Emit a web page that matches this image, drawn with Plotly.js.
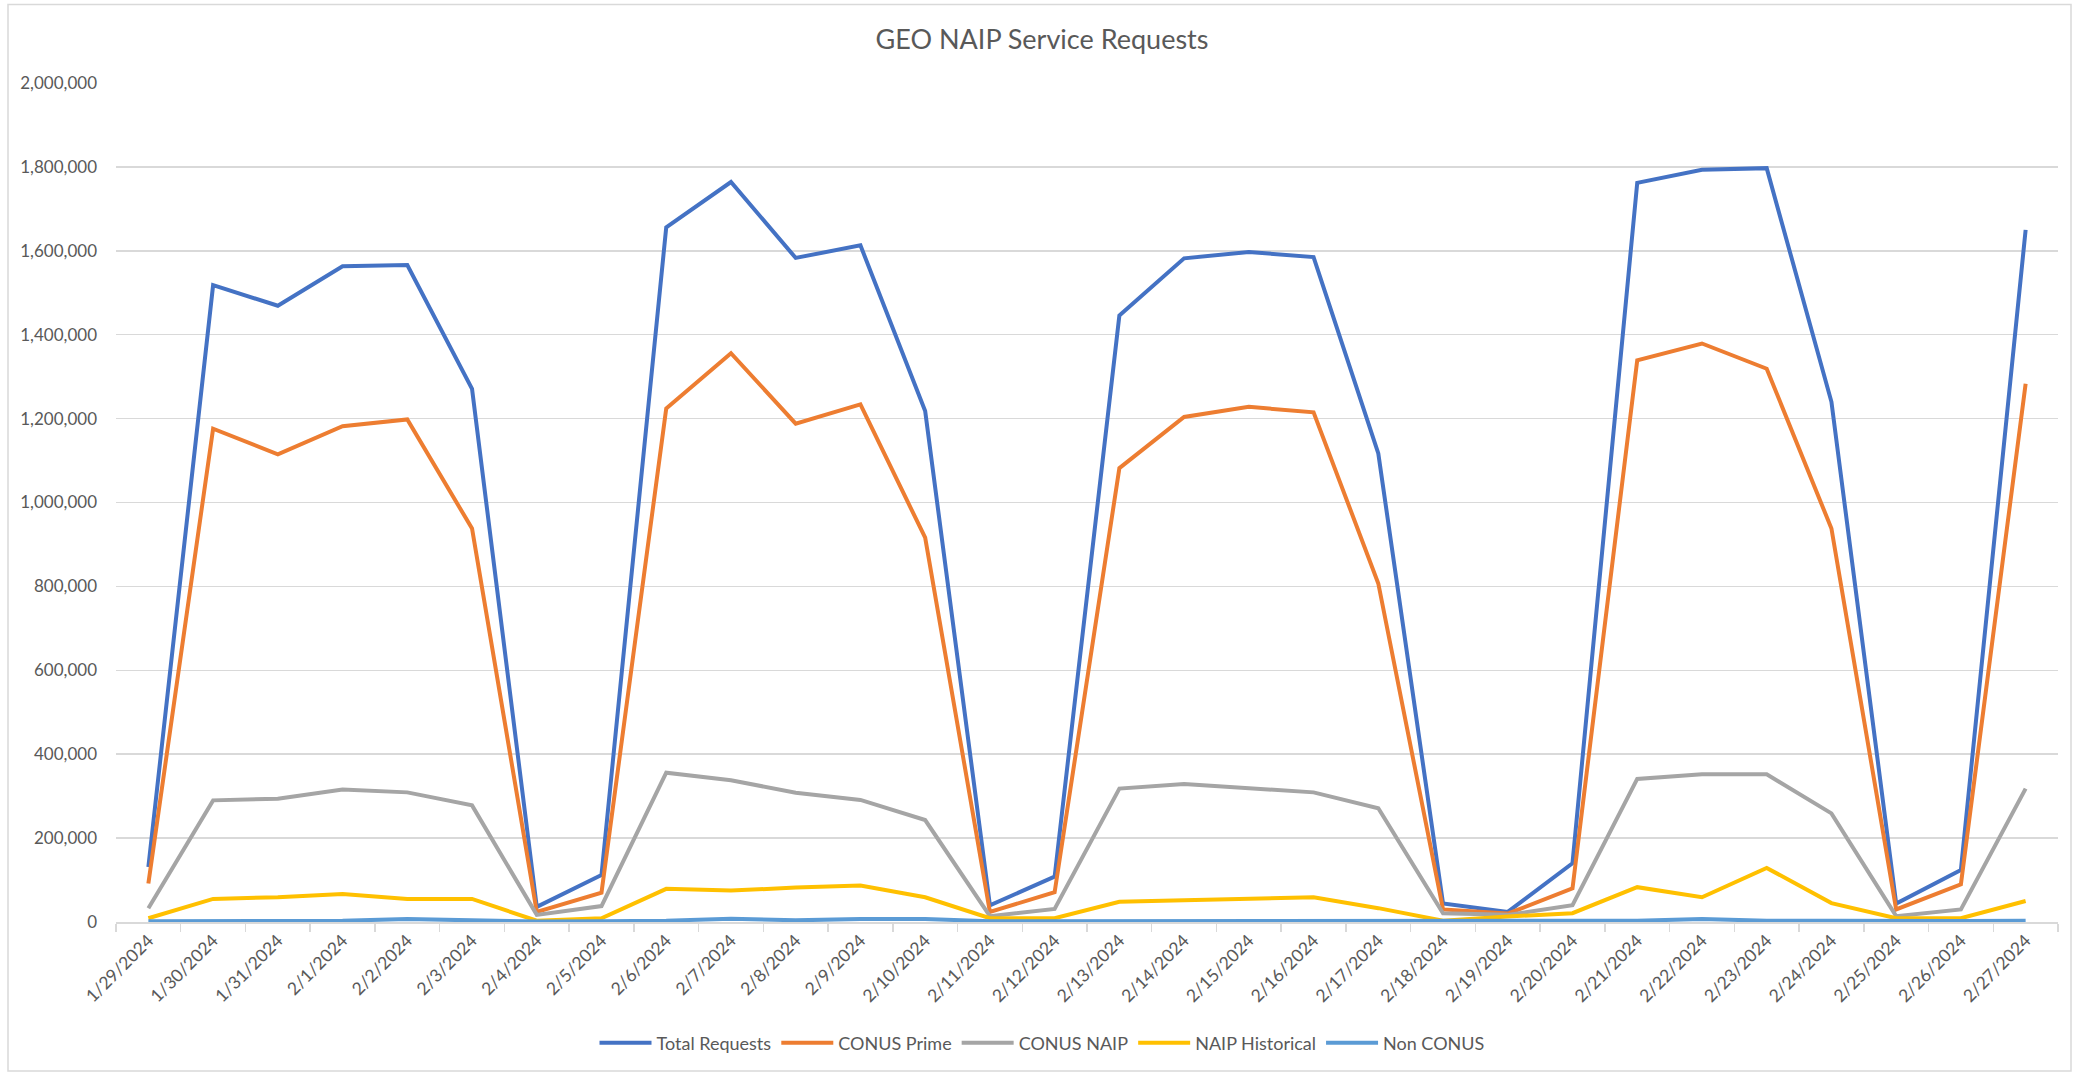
<!DOCTYPE html>
<html>
<head>
<meta charset="utf-8">
<script src="https://cdn.plot.ly/plotly-3.0.1.min.js"></script>
<style>
  html, body { margin: 0; padding: 0; background: #ffffff; }
  #chart { width: 2084px; height: 1072px; }
</style>
</head>
<body>
<div id="chart"></div>
<script>
const dates = ['1/29/2024','1/30/2024','1/31/2024','2/1/2024','2/2/2024','2/3/2024','2/4/2024','2/5/2024','2/6/2024','2/7/2024',
  '2/8/2024','2/9/2024','2/10/2024','2/11/2024','2/12/2024','2/13/2024','2/14/2024','2/15/2024','2/16/2024','2/17/2024',
  '2/18/2024','2/19/2024','2/20/2024','2/21/2024','2/22/2024','2/23/2024','2/24/2024','2/25/2024','2/26/2024','2/27/2024'];

const totalRequests = [131000, 1518000, 1469000, 1563000, 1566000, 1271000, 36000, 112000, 1656000, 1764000,
  1583000, 1613000, 1218000, 40000, 108000, 1446000, 1582000, 1597000, 1585000, 1117000,
  44000, 24000, 140000, 1762000, 1793000, 1797000, 1240000, 44000, 124000, 1650000];

const conusPrime = [92000, 1176000, 1115000, 1182000, 1198000, 938000, 24000, 70000, 1224000, 1356000,
  1188000, 1234000, 916000, 24000, 71000, 1082000, 1204000, 1228000, 1215000, 807000,
  30000, 20000, 80000, 1339000, 1379000, 1319000, 938000, 30000, 90000, 1283000];

const conusNaip = [33000, 290000, 294000, 316000, 309000, 278000, 17000, 38000, 356000, 338000,
  308000, 291000, 243000, 14000, 31000, 318000, 329000, 318000, 309000, 271000,
  21000, 17000, 40000, 341000, 352000, 352000, 259000, 14000, 30000, 318000];

const naipHistorical = [9000, 55000, 59000, 67000, 55000, 55000, 3000, 9000, 79000, 75000,
  82000, 87000, 59000, 9000, 9000, 48000, 52000, 55000, 59000, 33000,
  3000, 13000, 21000, 83000, 59000, 129000, 45000, 9000, 9000, 50000];

const nonConus = [1500, 2500, 2500, 3000, 7000, 3000, 1000, 1500, 3000, 8000,
  4000, 7000, 7000, 2000, 2000, 2500, 2500, 2500, 2500, 2500,
  2000, 2000, 2500, 3000, 7000, 3000, 3000, 2000, 2500, 3000];

const seriesNames = ['Total Requests', 'CONUS Prime', 'CONUS NAIP', 'NAIP Historical', 'Non CONUS'];
const seriesValues = [totalRequests, conusPrime, conusNaip, naipHistorical, nonConus];
const seriesColors = ['#4472C4', '#ED7D31', '#A5A5A5', '#FFC000', '#5B9BD5'];

const FONT = 'Lato, "Open Sans", sans-serif';
const TXT = '#595959';

const traces = seriesNames.map((n, i) => ({
  type: 'scatter',
  mode: 'lines',
  name: n,
  x: dates,
  y: seriesValues[i],
  line: { color: seriesColors[i], width: 4 },
  hoverinfo: 'x+y+name'
}));

const layout = {
  width: 2084,
  height: 1072,
  paper_bgcolor: '#ffffff',
  plot_bgcolor: '#ffffff',
  margin: { l: 116, r: 26, t: 82.5, b: 150 },
  font: { family: FONT, color: TXT, size: 17 },
  title: {
    text: 'GEO NAIP Service Requests',
    font: { family: FONT, size: 27, color: TXT },
    x: 0.5, xref: 'container', xanchor: 'center',
    y: 1 - 40 / 1072, yref: 'container', yanchor: 'middle'
  },
  xaxis: {
    type: 'category',
    range: [-0.5, dates.length - 0.5],
    showgrid: false,
    showline: true,
    linecolor: '#D9D9D9',
    linewidth: 1.5,
    ticks: 'outside',
    tickson: 'boundaries',
    ticklen: 8,
    tickcolor: '#D9D9D9',
    tickwidth: 1.5,
    tickangle: -45,
    tickfont: { family: FONT, size: 17.5, color: TXT },
    zeroline: false,
    fixedrange: true
  },
  yaxis: {
    range: [0, 2000000],
    dtick: 200000,
    tick0: 0,
    tickformat: ',d',
    showgrid: true,
    gridcolor: '#D9D9D9',
    gridwidth: 1.5,
    zeroline: true,
    zerolinecolor: '#D9D9D9',
    zerolinewidth: 1.5,
    showline: false,
    ticks: '',
    ticklabelstandoff: 18,
    tickfont: { family: FONT, size: 17, color: TXT },
    fixedrange: true
  },
  showlegend: true,
  legend: {
    orientation: 'h',
    xref: 'container', x: 0.5, xanchor: 'center',
    yref: 'container', y: 1 - 1043 / 1072, yanchor: 'middle',
    font: { family: FONT, size: 18, color: TXT },
    itemwidth: 52,
    tracegroupgap: 0,
    bgcolor: 'rgba(0,0,0,0)'
  },
  shapes: [
    { type: 'rect', xref: 'paper', yref: 'paper',
      x0: (8 - 116) / 1942, x1: (2071 - 116) / 1942,
      y0: (922 - 1071) / 839.5, y1: (922 - 4) / 839.5,
      line: { color: '#D9D9D9', width: 1.5 }, layer: 'below' }
  ]
};

Plotly.newPlot('chart', traces, layout, { displayModeBar: false, staticPlot: true });
</script>
</body>
</html>
